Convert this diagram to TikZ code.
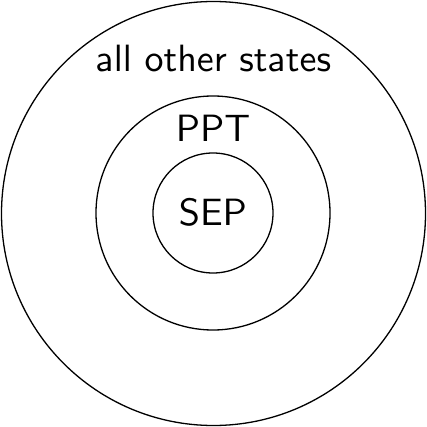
\documentclass[tikz,border=0pt]{standalone}
\font\lblfont=cmss10 at 38pt
\tikzset{ring/.style={draw=black,line width=1.3pt},
  lbl/.style={font=\lblfont,inner sep=0pt}}
\begin{document}
\begin{tikzpicture}[x=1pt,y=-1pt]
\useasboundingbox (0,0) rectangle (427,427);
\node[ring,circle,minimum size=424pt,inner sep=0pt] (outer) at (213.5,213.5) {};
\node[ring,circle,minimum size=234pt,inner sep=0pt] (mid) at (213,213) {};
\node[ring,circle,minimum size=120pt,inner sep=0pt] (inner) at (213,213) {};
\node[lbl,anchor=base] (all) at (213.5,72) {all other states};
\node[lbl,anchor=base] (ppt) at (213,142) {PPT};
\node[lbl,anchor=base] (sep) at (213,225) {SEP};
\end{tikzpicture}
\end{document}
